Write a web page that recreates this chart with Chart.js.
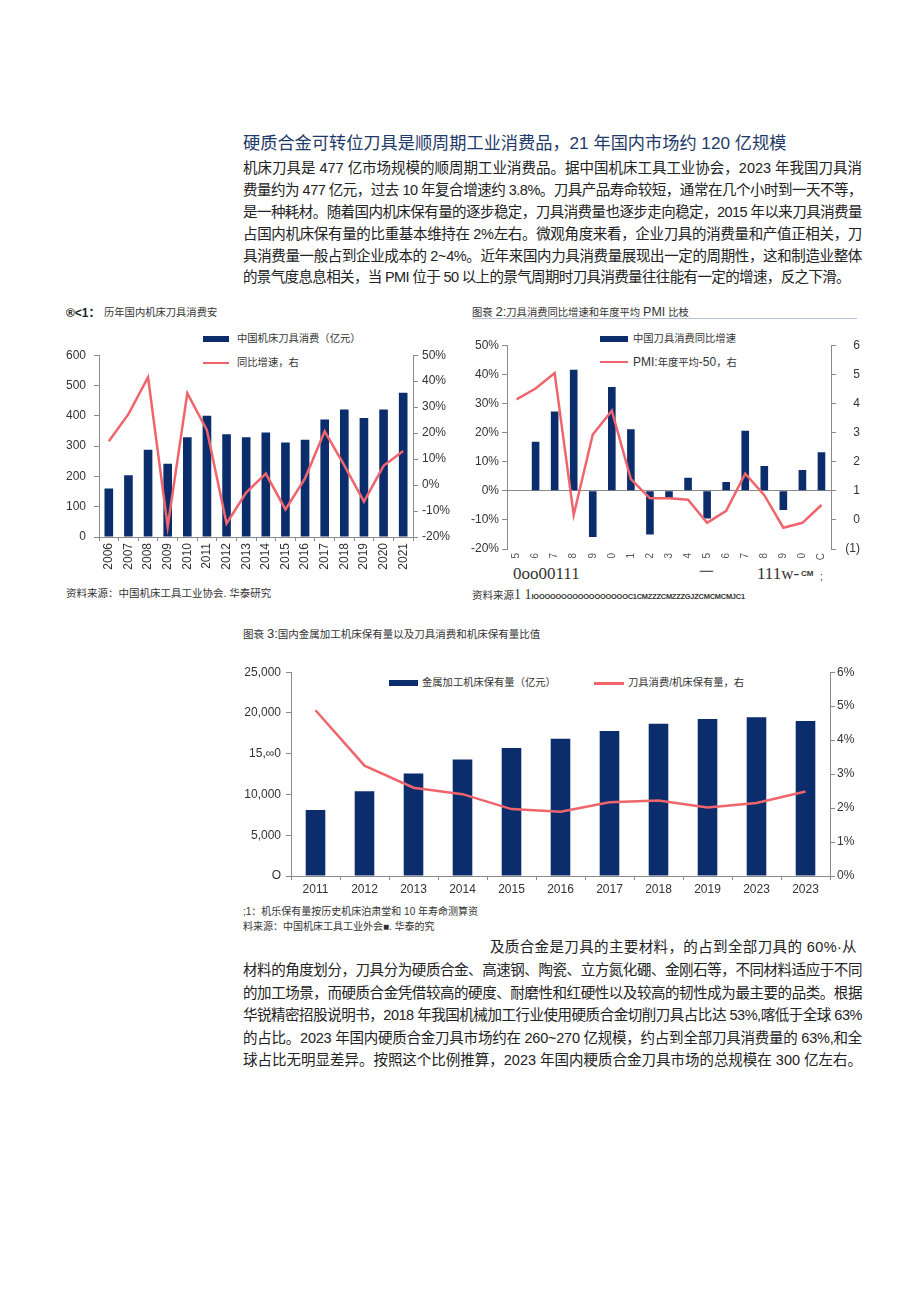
<!DOCTYPE html>
<html>
<head>
<meta charset="utf-8">
<script src="https://cdn.jsdelivr.net/npm/chart.js@4.4.1/dist/chart.umd.min.js"></script>
<style>
body{margin:0;background:#fff;width:920px;height:1301px;position:relative;overflow:hidden;font-family:"Liberation Sans","Noto Sans CJK SC",sans-serif;color:#222}
.a{position:absolute;white-space:nowrap;line-height:1}
.p{position:absolute;left:243px;font-size:14.5px;line-height:20px;white-space:nowrap}
.h{position:absolute;left:243px;top:133px;font-size:17.2px;color:#1f3a68;white-space:nowrap;line-height:20px}
.t{font-size:10.3px;color:#333}
.lg{font-size:10.3px;color:#333}
.sw{position:absolute;background:#0c2d6b}
.ln{position:absolute;background:#f0646c;height:2.5px}
canvas{position:absolute}
</style>
</head>
<body>

<div class="h">硬质合金可转位刀具是顺周期工业消费品，21 年国内市场约 120 亿规模</div>
<div class="p" data-w="619" style="top:158px">机床刀具是 477 亿市场规模的顺周期工业消费品。据中国机床工具工业协会，2023 年我国刀具消</div>
<div class="p" data-w="619" style="top:180px">费量约为 477 亿元，过去 10 年复合增速约 3.8%。刀具产品寿命较短，通常在几个小时到一天不等，</div>
<div class="p" data-w="619" style="top:202px">是一种耗材。随着国内机床保有量的逐步稳定，刀具消费量也逐步走向稳定，2015 年以来刀具消费量</div>
<div class="p" data-w="619" style="top:224px">占国内机床保有量的比重基本维持在 2%左右。微观角度来看，企业刀具的消费量和产值正相关，刀</div>
<div class="p" data-w="619" style="top:246px">具消费量一般占到企业成本的 2~4%。近年来国内力具消费量展现出一定的周期性，这和制造业整体</div>
<div class="p" data-w="607" style="top:267px">的景气度息息相关，当 PMI 位于 50 以上的景气周期时刀具消费量往往能有一定的增速，反之下滑。</div>

<!-- chart 1 header / legend / source -->
<div class="a" style="left:66px;top:307px;font-size:12px;font-weight:bold;color:#222">®&lt;1：</div>
<div class="a t" style="left:104px;top:308px">历年国内机床刀具消费安</div>
<div class="sw" style="left:203px;top:336px;width:26px;height:6px"></div>
<div class="a lg" style="left:237px;top:334px">中国机床刀具消费（亿元）</div>
<div class="ln" style="left:203px;top:361.5px;width:26px"></div>
<div class="a lg" style="left:237px;top:358px">同比增速，右</div>
<div class="a t" style="left:66px;top:588px;font-size:10.5px">资料来源：中国机床工具工业协会. 华泰研究</div>

<!-- chart 2 header / legend / source -->
<div class="a t" style="left:472px;top:305px">图衰 <span style="font-size:13px">2:</span>刀具消费同比增速和年度平均 <span style="font-size:12.5px">PMI</span> 比枝</div>
<div style="position:absolute;left:472px;top:318px;width:385px;height:1px;background:#b9c3d8"></div>
<div class="sw" style="left:600px;top:336px;width:28px;height:6px"></div>
<div class="a lg" style="left:633px;top:334px">中国刀具消费同比增速</div>
<div class="ln" style="left:600px;top:360.5px;width:28px"></div>
<div class="a lg" style="left:633px;top:356px"><span style="font-size:12px">PMI:</span>年度平均<span style="font-size:12px">-50</span>，右</div>
<div class="a" style="left:513px;top:565px;font-family:'Liberation Serif';font-size:17px;color:#333">0oo00111</div>
<div class="a" style="left:699px;top:565px;font-family:'Liberation Serif';font-size:15px;color:#333">一</div>
<div class="a" style="left:757px;top:565px;font-family:'Liberation Serif';font-size:17px;color:#333">111w-</div>
<div class="a" style="left:801px;top:570px;font-size:8px;font-weight:bold;color:#333">CM</div>
<div class="a" style="left:820px;top:572px;font-size:10px;color:#333">;</div>
<div class="a t" style="left:472px;top:588px;font-size:10.5px">资料来源<span style="font-family:'Liberation Serif';font-size:14px">1 1</span><span style="font-size:7.4px;font-weight:bold;letter-spacing:-0.2px">lOOOOOOOOOOOOOOOOOC1CMZZZCMZZZGJZCMCMCMJC1</span></div>

<!-- chart 3 header / legend / notes -->
<div class="a t" style="left:243px;top:627px;font-size:10.5px">图衰 <span style="font-size:13px">3:</span>国内金属加工机床保有量以及刀具消费和机床保有量比值</div>
<div class="sw" style="left:389px;top:680px;width:29px;height:6px"></div>
<div class="a lg" style="left:422px;top:678px">金属加工机床保有量（亿元）</div>
<div class="ln" style="left:594px;top:682px;width:30px"></div>
<div class="a lg" style="left:628px;top:678px">刀具消费/机床保有量，右</div>
<div class="a t" style="left:243px;top:907px;font-size:10px">;1：机乐保有量按历史机床泊肃堂和 10 年寿命测算资</div>
<div class="a t" style="left:243px;top:922px;font-size:10px">料来源：中国机床工具工业外会■. 华泰的究</div>

<div class="p" data-w="367" style="top:937px;left:490px">及质合金是刀具的主要材料，的占到全部刀具的 60%·从</div>
<div class="p" data-w="619" style="top:960px">材料的角度划分，刀具分为硬质合金、高速钢、陶瓷、立方氮化硼、金刚石等，不同材料适应于不同</div>
<div class="p" data-w="619" style="top:983px">的加工场景，而硬质合金凭借较高的硬度、耐磨性和红硬性以及较高的韧性成为最主要的品类。根据</div>
<div class="p" data-w="619" style="top:1005px">华锐精密招股说明书，2018 年我国机械加工行业使用硬质合金切削刀具占比达 53%,喀低于全球 63%</div>
<div class="p" data-w="619" style="top:1028px">的占比。2023 年国内硬质合金刀具市场约在 260~270 亿规模，约占到全部刀具消费量的 63%,和全</div>
<div class="p" data-w="619" style="top:1050px">球占比无明显差异。按照这个比例推算，2023 年国内粳质合金刀具市场的总规模在 300 亿左右。</div>

<canvas id="c1" width="420" height="240" style="left:40px;top:340px"></canvas>
<canvas id="c2" width="400" height="235" style="left:460px;top:335px"></canvas>
<canvas id="c3" width="630" height="240" style="left:230px;top:660px"></canvas>

<script>
// chart 1: 历年国内机床刀具消费
const years1 = ['2006','2007','2008','2009','2010','2011','2012','2013','2014','2015','2016','2017','2018','2019','2020','2021'];
const consumption1 = [160, 204, 288, 242, 329, 400, 339, 329, 345, 312, 321, 388, 421, 393, 421, 476];
const growth1 = [16.9, 27.3, 41.5, -16.0, 35.4, 21.1, -14.8, -2.9, 4.4, -9.4, 2.6, 20.7, 7.6, -6.4, 7.4, 13.1];

// chart 2: 刀具消费同比增速 vs PMI
const years2 = ['5','6','7','8','9','0','1','2','3','4','5','6','7','8','9','0','C'];
const growth2 = [null, 16.8, 27.2, 41.6, -15.9, 35.6, 21.1, -15.0, -2.4, 4.5, -9.5, 3.0, 20.6, 8.5, -6.6, 7.1, 13.2];
const pmi2 = [4.14, 4.51, 5.04, 0.17, 2.93, 3.75, 1.40, 0.74, 0.74, 0.69, -0.10, 0.31, 1.59, 0.85, -0.27, -0.10, 0.51];

// chart 3: 机床保有量 and ratio
const years3 = ['2011','2012','2013','2014','2015','2016','2017','2018','2019','2023','2023'];
const stock3 = [8090, 10400, 12580, 14280, 15700, 16830, 17800, 18690, 19260, 19460, 19010];
const ratio3 = [4.88, 3.25, 2.60, 2.41, 1.97, 1.89, 2.17, 2.22, 2.02, 2.15, 2.49];
const stockTicks3 = ['O', '5,000', '10,000', '15,\u221e0', '20,000', '25,000'];

// stretch / squeeze each paragraph line to its justified width
document.querySelectorAll('.p').forEach(el => {
  const target = parseFloat(el.dataset.w);
  const w = el.getBoundingClientRect().width;
  const n = el.textContent.length;
  el.style.letterSpacing = ((target - w) / n) + 'px';
});

const navy = '#0c2d6b';
const red = '#f0646c';
const axisGrey = '#8a8a8a';
const tickFont = { family: 'Liberation Sans', size: 12 };

const fixW = w => axis => { axis.width = w; };
const fixH = h => axis => { axis.height = h; };

Chart.defaults.animation = false;
Chart.defaults.color = '#333';

new Chart(document.getElementById('c1'), {
  type: 'bar',
  data: {
    labels: years1,
    datasets: [
      { type: 'line', data: growth1, yAxisID: 'y1', borderColor: red, borderWidth: 2.5, pointRadius: 0, tension: 0, order: 0 },
      { data: consumption1, yAxisID: 'y', backgroundColor: navy, barPercentage: 0.44, categoryPercentage: 1, order: 1 }
    ]
  },
  options: {
    responsive: false,
    layout: { padding: { top: 10, left: 0, right: 0, bottom: 0 } },
    plugins: { legend: { display: false }, tooltip: { enabled: false } },
    scales: {
      x: {
        afterFit: fixH(43),
        grid: { drawOnChartArea: false, tickLength: 4, color: axisGrey },
        border: { color: axisGrey },
        ticks: { font: tickFont, maxRotation: 90, minRotation: 90, padding: 2, autoSkip: false }
      },
      y: {
        position: 'left', min: 0, max: 600,
        afterFit: fixW(59),
        grid: { drawOnChartArea: false, tickLength: 5, color: axisGrey },
        border: { color: axisGrey },
        ticks: { font: tickFont, stepSize: 100, padding: 8 }
      },
      y1: {
        position: 'right', min: -20, max: 50,
        afterFit: fixW(47),
        grid: { drawOnChartArea: false, tickLength: 5, color: axisGrey },
        border: { color: axisGrey },
        ticks: { font: tickFont, stepSize: 10, padding: 4, callback: v => v + '%' }
      }
    }
  }
});

new Chart(document.getElementById('c2'), {
  type: 'bar',
  data: {
    labels: years2,
    datasets: [
      { type: 'line', data: pmi2, yAxisID: 'y1', borderColor: red, borderWidth: 2.5, pointRadius: 0, tension: 0, order: 0 },
      { data: growth2, yAxisID: 'y', backgroundColor: navy, barPercentage: 0.4, categoryPercentage: 1, order: 1 }
    ]
  },
  options: {
    responsive: false,
    layout: { padding: { top: 10, left: 0, right: 0, bottom: 0 } },
    plugins: { legend: { display: false }, tooltip: { enabled: false } },
    scales: {
      x: {
        afterFit: fixH(21),
        grid: { display: false, drawTicks: false },
        border: { display: false },
        ticks: { font: { family: 'Liberation Sans', size: 10 }, color: '#555', maxRotation: 90, minRotation: 90, padding: 4, autoSkip: false }
      },
      y: {
        position: 'left', min: -20, max: 50,
        afterFit: fixW(47),
        grid: {
          drawOnChartArea: true, tickLength: 5, tickColor: axisGrey,
          color: ctx => (ctx.tick && ctx.tick.value === 0) ? axisGrey : 'rgba(0,0,0,0)'
        },
        border: { color: axisGrey },
        ticks: { font: tickFont, stepSize: 10, padding: 3, callback: v => v + '%' }
      },
      y1: {
        position: 'right', min: -1, max: 6,
        afterFit: fixW(29),
        grid: { drawOnChartArea: false, tickLength: 5, color: axisGrey },
        border: { color: axisGrey },
        ticks: { font: tickFont, stepSize: 1, crossAlign: 'far', callback: v => v < 0 ? '(' + (-v) + ')' : v }
      }
    }
  }
});

new Chart(document.getElementById('c3'), {
  type: 'bar',
  data: {
    labels: years3,
    datasets: [
      { type: 'line', data: ratio3, yAxisID: 'y1', borderColor: red, borderWidth: 2.5, pointRadius: 0, tension: 0, order: 0 },
      { data: stock3, yAxisID: 'y', backgroundColor: navy, barPercentage: 0.4, categoryPercentage: 1, order: 1 }
    ]
  },
  options: {
    responsive: false,
    layout: { padding: { top: 10, left: 0, right: 0, bottom: 0 } },
    plugins: { legend: { display: false }, tooltip: { enabled: false } },
    scales: {
      x: {
        afterFit: fixH(24),
        grid: { drawOnChartArea: false, tickLength: 4, color: axisGrey },
        border: { color: axisGrey },
        ticks: { font: tickFont, maxRotation: 0, padding: 2, autoSkip: false }
      },
      y: {
        position: 'left', min: 0, max: 25000,
        afterFit: fixW(61),
        grid: { drawOnChartArea: false, tickLength: 5, color: axisGrey },
        border: { color: axisGrey },
        ticks: { font: tickFont, stepSize: 5000, padding: 5, callback: (v, i) => stockTicks3[i] }
      },
      y1: {
        position: 'right', min: 0, max: 6,
        afterFit: fixW(30),
        grid: { drawOnChartArea: false, tickLength: 5, color: axisGrey },
        border: { color: axisGrey },
        ticks: { font: tickFont, stepSize: 1, padding: 2, callback: v => v + '%' }
      }
    }
  }
});
</script>
</body>
</html>
